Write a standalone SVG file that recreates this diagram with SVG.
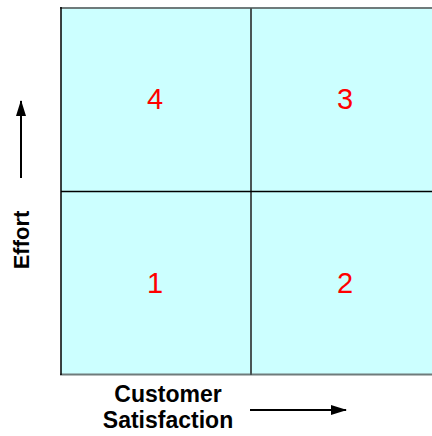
<svg xmlns="http://www.w3.org/2000/svg" width="432" height="436" viewBox="0 0 432 436">
<defs>
<style>
.num{font-family:"Liberation Sans",Arial,sans-serif;font-size:29px;fill:#ff0000;text-anchor:middle}
.lbl{font-family:"Liberation Sans",Arial,sans-serif;font-size:23px;font-weight:bold;fill:#000;text-anchor:middle}
.cell{fill:#ccffff;stroke:none}
</style>
<marker id="ah" markerWidth="16" markerHeight="10" refX="15" refY="5" orient="auto" markerUnits="userSpaceOnUse">
<path d="M0,0 L16,5 L0,10 z" fill="#000"/>
</marker>
</defs>
<rect width="432" height="436" fill="#fff"/>
<g id="q4"><rect class="cell" x="61" y="8" width="190" height="183.5"/><text class="num" x="155" y="109">4</text></g>
<g id="q3"><rect class="cell" x="251" y="8" width="181" height="183.5"/><text class="num" x="345" y="109">3</text></g>
<g id="q1"><rect class="cell" x="61" y="191.5" width="190" height="183"/><text class="num" x="155" y="293">1</text></g>
<g id="q2"><rect class="cell" x="251" y="191.5" width="181" height="183"/><text class="num" x="345" y="293">2</text></g>
<g id="grid">
<line x1="60" y1="8" x2="432" y2="8" stroke="#6f7b7b" stroke-width="2"/>
<line x1="60" y1="374.5" x2="432" y2="374.5" stroke="#6f7b7b" stroke-width="2"/>
<line x1="61" y1="7" x2="61" y2="375" stroke="#000" stroke-width="1.5"/>
<line x1="251" y1="8" x2="251" y2="375" stroke="#4a5555" stroke-width="2"/>
<line x1="61" y1="191.5" x2="432" y2="191.5" stroke="#000" stroke-width="1.5"/>
</g>
<g id="connectors">
<line x1="21" y1="178" x2="21" y2="101" stroke="#000" stroke-width="2" marker-end="url(#ah)"/>
<line x1="250" y1="410" x2="346" y2="410" stroke="#000" stroke-width="2" marker-end="url(#ah)"/>
</g>
<g id="effort"><text class="lbl" style="font-size:22px" transform="translate(29,240) rotate(-90)">Effort</text></g>
<g id="satisfaction"><text class="lbl" x="168" y="402">Customer</text><text class="lbl" x="168" y="428">Satisfaction</text></g>
</svg>
